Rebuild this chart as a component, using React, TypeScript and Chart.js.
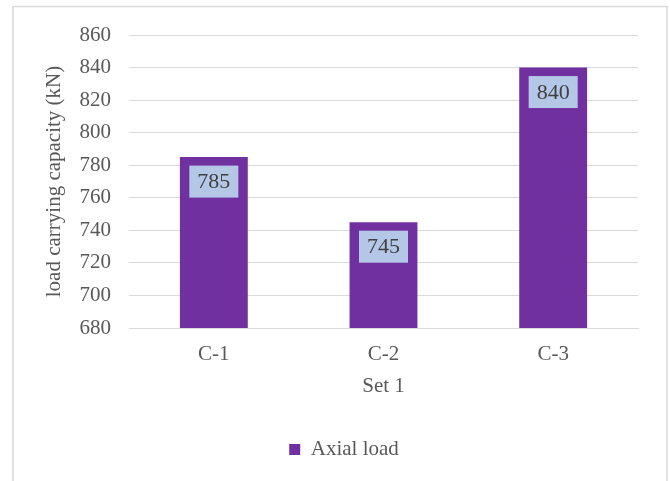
import React, { useEffect, useRef } from "react";
import { Chart, registerables } from "chart.js";

Chart.register(...registerables);

const categories = ["C-1", "C-2", "C-3"];
const axialLoad = [785, 745, 840];
const seriesName = "Axial load";
const yMin = 680;
const yMax = 860;
const yStep = 20;
const yTitle = "load carrying capacity (kN)";
const xTitle = "Set 1";

const FONT = "'Liberation Serif', 'Times New Roman', serif";
const TEXT = "#595959";
const GRID = "#d9d9d9";
const BAR = "#7030a0";
const LABEL_BG = "#b4c7e7";

const framePlugin = {
  id: "frame",
  beforeDraw(chart: any) {
    const ctx = chart.ctx;
    ctx.save();
    ctx.strokeStyle = "#d9d9d9";
    ctx.lineWidth = 1.5;
    ctx.strokeRect(13, 6.5, 654, 520);
    ctx.restore();
  },
};

const legendShift = {
  id: "legendShift",
  afterLayout(chart: any) {
    const l = chart.legend;
    if (l) {
      l.left += 18;
      l.right += 18;
    }
  },
};

const labelPlugin = {
  id: "barLabels",
  afterDatasetsDraw(chart: any) {
    const ctx = chart.ctx;
    const meta = chart.getDatasetMeta(0);
    const data = chart.data.datasets[0].data;
    ctx.save();
    ctx.font = `22px ${FONT}`;
    ctx.textAlign = "center";
    ctx.textBaseline = "middle";
    meta.data.forEach((bar: any, i: number) => {
      const txt = String(data[i]);
      const w = ctx.measureText(txt).width + 16;
      const h = 32;
      const top = bar.y + 8.5;
      ctx.fillStyle = LABEL_BG;
      ctx.fillRect(bar.x - w / 2, top, w, h);
      ctx.fillStyle = "#404040";
      ctx.fillText(txt, bar.x, top + h / 2 + 1);
    });
    ctx.restore();
  },
};

export default function App() {
  const ref = useRef<HTMLCanvasElement | null>(null);
  useEffect(() => {
    if (!ref.current) return;
    const chart = new Chart(ref.current, {
      type: "bar",
      data: {
        labels: categories,
        datasets: [
          {
            label: seriesName,
            data: axialLoad,
            backgroundColor: BAR,
            borderWidth: 0,
            barPercentage: 0.4,
            categoryPercentage: 1,
          },
        ],
      },
      options: {
        responsive: false,
        animation: false,
        layout: { padding: { left: 14, right: 32, top: 35, bottom: 11 } },
        plugins: {
          legend: {
            position: "bottom",
            labels: {
              boxWidth: 11,
              boxHeight: 11,
              padding: 10,
              color: TEXT,
              font: { family: FONT, size: 21 },
            },
          },
          tooltip: { enabled: false },
        },
        scales: {
          x: {
            grid: { display: false, drawTicks: false },
            border: { display: true, color: GRID, width: 1 },
            ticks: { color: TEXT, font: { family: FONT, size: 21 }, padding: 14 },
            title: {
              display: true,
              text: xTitle,
              color: TEXT,
              font: { family: FONT, size: 21 },
              padding: { top: 0, bottom: 30 },
            },
            afterFit(scale: any) {
              scale.height = 101;
            },
          },
          y: {
            min: yMin,
            max: yMax,
            grid: { color: GRID, lineWidth: 1, drawTicks: false },
            border: { display: false },
            ticks: {
              stepSize: yStep,
              color: TEXT,
              font: { family: FONT, size: 21 },
              padding: 18,
            },
            title: {
              display: true,
              text: yTitle,
              color: TEXT,
              font: { family: FONT, size: 21 },
              padding: { top: 28, bottom: 0 },
            },
            afterFit(scale: any) {
              scale.width = 115;
            },
          },
        },
      },
      plugins: [framePlugin, legendShift, labelPlugin],
    });
    return () => chart.destroy();
  }, []);
  return (
    <div style={{ position: "absolute", left: 0, top: 0, width: 670, height: 481, background: "#fff" }}>
      <canvas ref={ref} width={670} height={481} style={{ display: "block" }} />
    </div>
  );
}
